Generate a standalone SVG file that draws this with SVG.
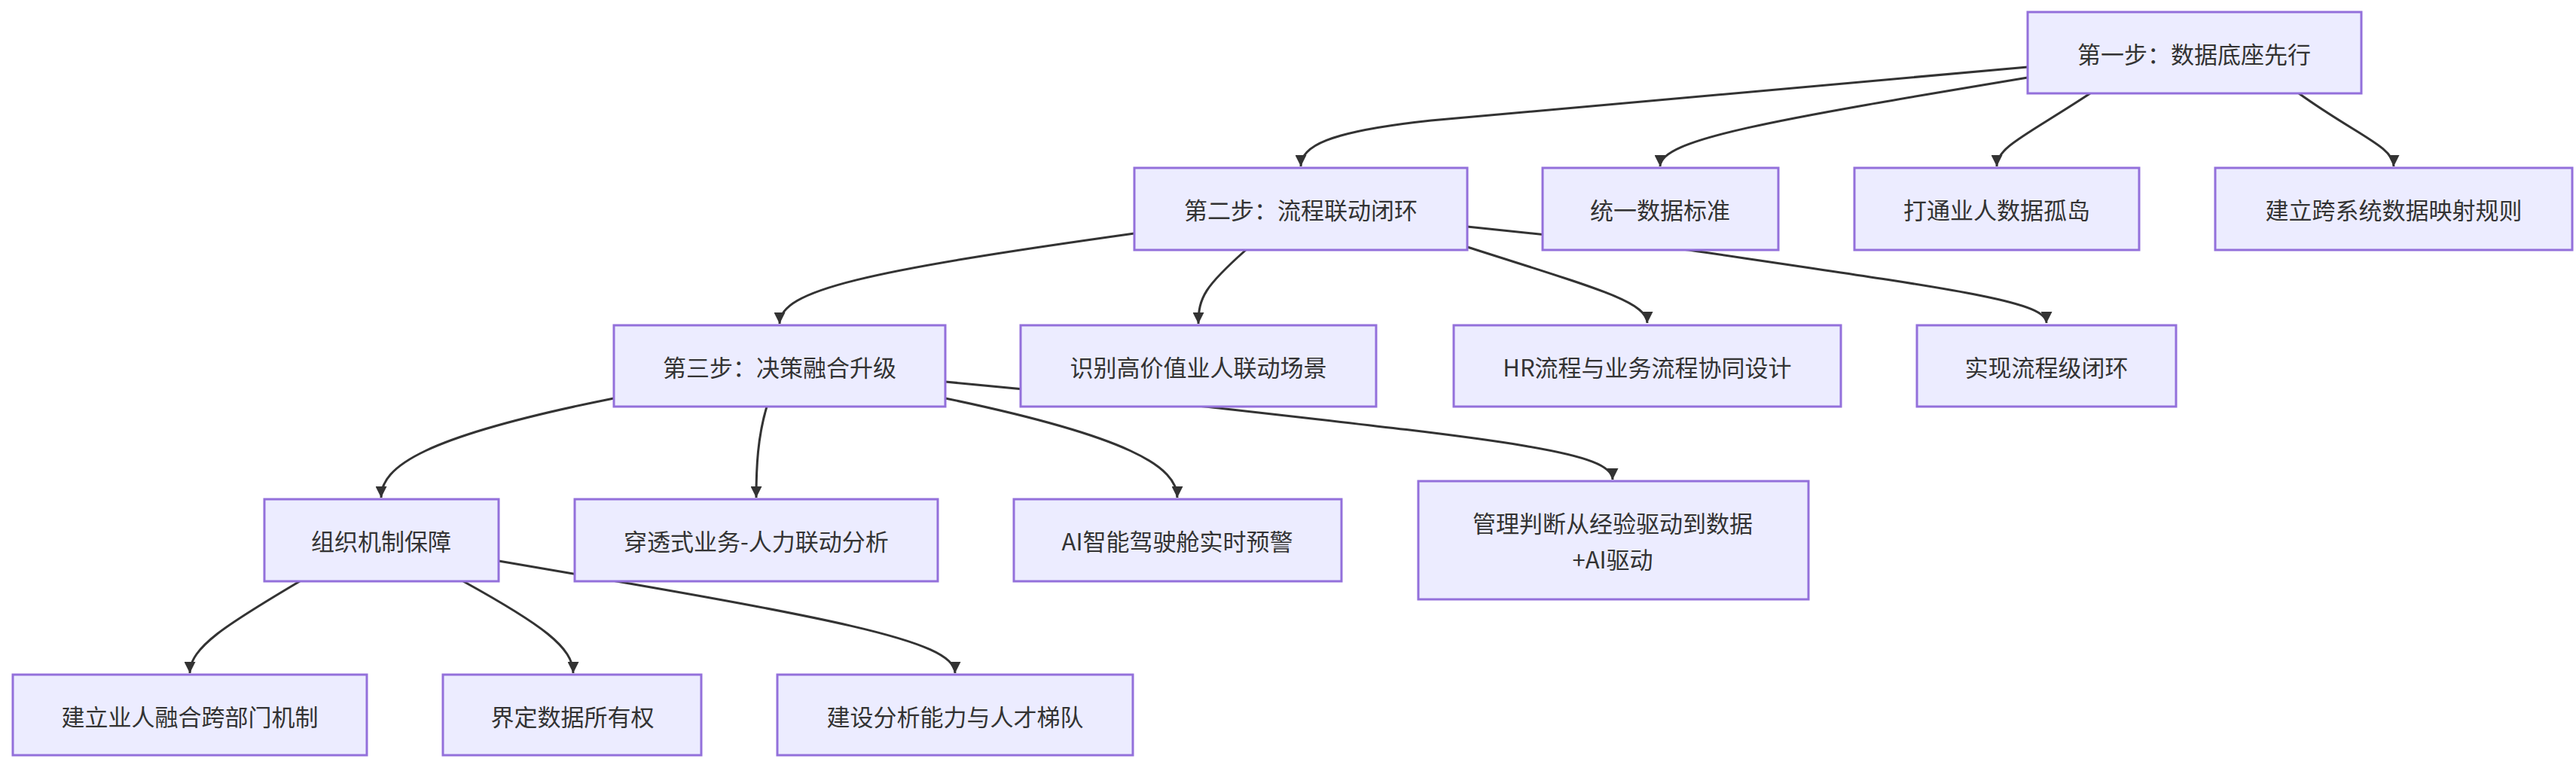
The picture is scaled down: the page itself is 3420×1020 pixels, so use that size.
<svg xmlns="http://www.w3.org/2000/svg" width="3420" height="1020" viewBox="0 0 3420 1020">
<style>
.n rect{fill:#ECECFF;stroke:#9370DB;stroke-width:3}
.n text{font-family:"Noto Sans CJK SC","Liberation Sans",sans-serif;font-size:31px;fill:#333;text-anchor:middle;dominant-baseline:central}
.e path{fill:none;stroke:#333;stroke-width:3;marker-end:url(#a)}
</style>
<defs><marker id="a" viewBox="0 0 10 10" refX="10" refY="5" markerWidth="5" markerHeight="5" markerUnits="strokeWidth" orient="auto"><path d="M0,0L10,5L0,10z" fill="#333"/></marker></defs>
<rect width="3420" height="1020" fill="#fff"/>
<g id="edges" class="e">
<path d="M2692,89 L1900,160 C1760,175 1727,195 1727,221"/>
<path d="M2692,103 C2350,160 2204,185 2204,221"/>
<path d="M2775,124 C2690,180 2651,195 2651,221"/>
<path d="M3052,124 C3130,180 3178,195 3178,221"/>
<path d="M1506,310 C1150,360 1035,385 1035,430"/>
<path d="M1654,332 C1600,380 1591,395 1591,430"/>
<path d="M1948,328 C2110,380 2187,400 2187,429"/>
<path d="M1948,301 L2242,332 C2600,385 2717,400 2717,429"/>
<path d="M815,529 C560,580 506,620 506,661"/>
<path d="M1018,540 C1006,580 1004,620 1004,661"/>
<path d="M1255,529 C1500,580 1563,620 1563,661"/>
<path d="M1255,507 L1600,540 C2000,585 2141,600 2141,637"/>
<path d="M398,772 C300,830 252,860 252,894"/>
<path d="M615,772 C720,830 761,860 761,894"/>
<path d="M662,745 C1100,820 1268,850 1268,894"/>
</g>
<g id="n1" class="n"><rect x="2692" y="16" width="443" height="108"/><text x="2913" y="70">第一步：数据底座先行</text></g>
<g id="n2" class="n"><rect x="1506" y="223" width="442" height="109"/><text x="1727" y="277">第二步：流程联动闭环</text></g>
<g id="n3" class="n"><rect x="2048" y="223" width="313" height="109"/><text x="2204" y="277">统一数据标准</text></g>
<g id="n4" class="n"><rect x="2462" y="223" width="378" height="109"/><text x="2651" y="277">打通业人数据孤岛</text></g>
<g id="n5" class="n"><rect x="2941" y="223" width="474" height="109"/><text x="3178" y="277">建立跨系统数据映射规则</text></g>
<g id="n6" class="n"><rect x="815" y="432" width="440" height="108"/><text x="1035" y="486">第三步：决策融合升级</text></g>
<g id="n7" class="n"><rect x="1355" y="432" width="472" height="108"/><text x="1591" y="486">识别高价值业人联动场景</text></g>
<g id="n8" class="n"><rect x="1930" y="432" width="514" height="108"/><text x="2187" y="486">HR流程与业务流程协同设计</text></g>
<g id="n9" class="n"><rect x="2545" y="432" width="344" height="108"/><text x="2717" y="486">实现流程级闭环</text></g>
<g id="n10" class="n"><rect x="351" y="663" width="311" height="109"/><text x="506" y="717">组织机制保障</text></g>
<g id="n11" class="n"><rect x="763" y="663" width="482" height="109"/><text x="1004" y="717">穿透式业务-人力联动分析</text></g>
<g id="n12" class="n"><rect x="1346" y="663" width="435" height="109"/><text x="1563" y="717">AI智能驾驶舱实时预警</text></g>
<g id="n13" class="n"><rect x="1883" y="639" width="518" height="157"/><text x="2141" y="693">管理判断从经验驱动到数据</text><text x="2141" y="741">+AI驱动</text></g>
<g id="n14" class="n"><rect x="17" y="896" width="470" height="107"/><text x="252" y="950">建立业人融合跨部门机制</text></g>
<g id="n15" class="n"><rect x="588" y="896" width="343" height="107"/><text x="760" y="950">界定数据所有权</text></g>
<g id="n16" class="n"><rect x="1032" y="896" width="472" height="107"/><text x="1268" y="950">建设分析能力与人才梯队</text></g>
</svg>
